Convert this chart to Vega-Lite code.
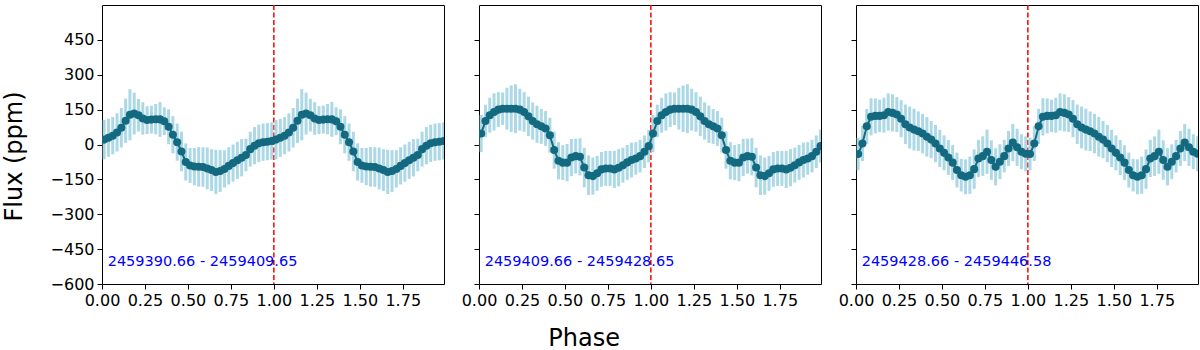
{
"$schema": "https://vega.github.io/schema/vega-lite/v6.json",
"padding": {"left": 1, "top": 3, "right": 0, "bottom": 0},
"config": {
 "font": "DejaVu Sans",
 "view": {"stroke": "black", "strokeWidth": 1},
 "concat": {"spacing": 15},
 "axis": {"domain": false, "grid": false, "tickColor": "black", "tickSize": 5, "labelColor": "black", "labelFontSize": 16, "labelPadding": 3, "labelOverlap": false, "labelFlush": false, "titleColor": "black", "titleFontWeight": "normal", "titleFontSize": 24},
 "axisY": {"labelOverlap": false}
},
"datasets": {
 "d": [
{"x":0.0125,"a":21,"ea":85,"b":47,"eb":80,"c":-41,"ec":70},
{"x":0.0375,"a":29,"ea":82,"b":101,"eb":70,"c":4,"ec":75},
{"x":0.0625,"a":38,"ea":80,"b":126,"eb":75,"c":78,"ec":75},
{"x":0.0875,"a":52,"ea":82,"b":140,"eb":80,"c":119,"ec":80},
{"x":0.1125,"a":72,"ea":85,"b":150,"eb":75,"c":123,"ec":75},
{"x":0.1375,"a":102,"ea":95,"b":154,"eb":70,"c":123,"ec":70},
{"x":0.1625,"a":128,"ea":110,"b":154,"eb":90,"c":126,"ec":75},
{"x":0.1875,"a":133,"ea":90,"b":154,"eb":100,"c":140,"ec":80},
{"x":0.2125,"a":126,"ea":70,"b":154,"eb":105,"c":136,"ec":80},
{"x":0.2375,"a":112,"ea":70,"b":150,"eb":90,"c":129,"ec":75},
{"x":0.2625,"a":105,"ea":60,"b":140,"eb":85,"c":111,"ec":80},
{"x":0.2875,"a":107,"ea":60,"b":121,"eb":85,"c":87,"ec":85},
{"x":0.3125,"a":109,"ea":65,"b":101,"eb":80,"c":73,"ec":90},
{"x":0.3375,"a":108,"ea":75,"b":87,"eb":80,"c":64,"ec":90},
{"x":0.3625,"a":100,"ea":60,"b":78,"eb":75,"c":57,"ec":85},
{"x":0.3875,"a":76,"ea":75,"b":69,"eb":75,"c":47,"ec":85},
{"x":0.4125,"a":42,"ea":80,"b":40,"eb":75,"c":33,"ec":85},
{"x":0.4375,"a":10,"ea":80,"b":-24,"eb":80,"c":21,"ec":80},
{"x":0.4625,"a":-30,"ea":85,"b":-70,"eb":80,"c":4,"ec":80},
{"x":0.4875,"a":-75,"ea":80,"b":-78,"eb":75,"c":-17,"ec":80},
{"x":0.5125,"a":-90,"ea":75,"b":-78,"eb":80,"c":-36,"ec":75},
{"x":0.5375,"a":-95,"ea":80,"b":-56,"eb":80,"c":-56,"ec":75},
{"x":0.5625,"a":-96,"ea":85,"b":-50,"eb":75,"c":-78,"ec":75},
{"x":0.5875,"a":-97,"ea":85,"b":-53,"eb":80,"c":-110,"ec":75},
{"x":0.6125,"a":-103,"ea":90,"b":-99,"eb":85,"c":-132,"ec":70},
{"x":0.6375,"a":-110,"ea":90,"b":-132,"eb":85,"c":-139,"ec":75},
{"x":0.6625,"a":-118,"ea":95,"b":-136,"eb":80,"c":-132,"ec":80},
{"x":0.6875,"a":-114,"ea":90,"b":-124,"eb":75,"c":-106,"ec":85},
{"x":0.7125,"a":-105,"ea":80,"b":-107,"eb":75,"c":-60,"ec":80},
{"x":0.7375,"a":-92,"ea":80,"b":-103,"eb":75,"c":-50,"ec":85},
{"x":0.7625,"a":-80,"ea":80,"b":-103,"eb":75,"c":-31,"ec":95},
{"x":0.7875,"a":-68,"ea":80,"b":-107,"eb":80,"c":-67,"ec":85},
{"x":0.8125,"a":-57,"ea":80,"b":-100,"eb":80,"c":-96,"ec":80},
{"x":0.8375,"a":-45,"ea":70,"b":-89,"eb":75,"c":-74,"ec":75},
{"x":0.8625,"a":-20,"ea":75,"b":-77,"eb":75,"c":-50,"ec":70},
{"x":0.8875,"a":-5,"ea":80,"b":-67,"eb":75,"c":-17,"ec":75},
{"x":0.9125,"a":5,"ea":80,"b":-60,"eb":70,"c":8,"ec":80},
{"x":0.9375,"a":10,"ea":80,"b":-50,"eb":70,"c":-12,"ec":80},
{"x":0.9625,"a":12,"ea":80,"b":-31,"eb":70,"c":-31,"ec":75},
{"x":0.9875,"a":15,"ea":80,"b":-7,"eb":70,"c":-40,"ec":75},
{"x":1.0125,"a":21,"ea":85,"b":47,"eb":80,"c":-41,"ec":70},
{"x":1.0375,"a":29,"ea":82,"b":101,"eb":70,"c":4,"ec":75},
{"x":1.0625,"a":38,"ea":80,"b":126,"eb":75,"c":78,"ec":75},
{"x":1.0875,"a":52,"ea":82,"b":140,"eb":80,"c":119,"ec":80},
{"x":1.1125,"a":72,"ea":85,"b":150,"eb":75,"c":123,"ec":75},
{"x":1.1375,"a":102,"ea":95,"b":154,"eb":70,"c":123,"ec":70},
{"x":1.1625,"a":128,"ea":110,"b":154,"eb":90,"c":126,"ec":75},
{"x":1.1875,"a":133,"ea":90,"b":154,"eb":100,"c":140,"ec":80},
{"x":1.2125,"a":126,"ea":70,"b":154,"eb":105,"c":136,"ec":80},
{"x":1.2375,"a":112,"ea":70,"b":150,"eb":90,"c":129,"ec":75},
{"x":1.2625,"a":105,"ea":60,"b":140,"eb":85,"c":111,"ec":80},
{"x":1.2875,"a":107,"ea":60,"b":121,"eb":85,"c":87,"ec":85},
{"x":1.3125,"a":109,"ea":65,"b":101,"eb":80,"c":73,"ec":90},
{"x":1.3375,"a":108,"ea":75,"b":87,"eb":80,"c":64,"ec":90},
{"x":1.3625,"a":100,"ea":60,"b":78,"eb":75,"c":57,"ec":85},
{"x":1.3875,"a":76,"ea":75,"b":69,"eb":75,"c":47,"ec":85},
{"x":1.4125,"a":42,"ea":80,"b":40,"eb":75,"c":33,"ec":85},
{"x":1.4375,"a":10,"ea":80,"b":-24,"eb":80,"c":21,"ec":80},
{"x":1.4625,"a":-30,"ea":85,"b":-70,"eb":80,"c":4,"ec":80},
{"x":1.4875,"a":-75,"ea":80,"b":-78,"eb":75,"c":-17,"ec":80},
{"x":1.5125,"a":-90,"ea":75,"b":-78,"eb":80,"c":-36,"ec":75},
{"x":1.5375,"a":-95,"ea":80,"b":-56,"eb":80,"c":-56,"ec":75},
{"x":1.5625,"a":-96,"ea":85,"b":-50,"eb":75,"c":-78,"ec":75},
{"x":1.5875,"a":-97,"ea":85,"b":-53,"eb":80,"c":-110,"ec":75},
{"x":1.6125,"a":-103,"ea":90,"b":-99,"eb":85,"c":-132,"ec":70},
{"x":1.6375,"a":-110,"ea":90,"b":-132,"eb":85,"c":-139,"ec":75},
{"x":1.6625,"a":-118,"ea":95,"b":-136,"eb":80,"c":-132,"ec":80},
{"x":1.6875,"a":-114,"ea":90,"b":-124,"eb":75,"c":-106,"ec":85},
{"x":1.7125,"a":-105,"ea":80,"b":-107,"eb":75,"c":-60,"ec":80},
{"x":1.7375,"a":-92,"ea":80,"b":-103,"eb":75,"c":-50,"ec":85},
{"x":1.7625,"a":-80,"ea":80,"b":-103,"eb":75,"c":-31,"ec":95},
{"x":1.7875,"a":-68,"ea":80,"b":-107,"eb":80,"c":-67,"ec":85},
{"x":1.8125,"a":-57,"ea":80,"b":-100,"eb":80,"c":-96,"ec":80},
{"x":1.8375,"a":-45,"ea":70,"b":-89,"eb":75,"c":-74,"ec":75},
{"x":1.8625,"a":-20,"ea":75,"b":-77,"eb":75,"c":-50,"ec":70},
{"x":1.8875,"a":-5,"ea":80,"b":-67,"eb":75,"c":-17,"ec":75},
{"x":1.9125,"a":5,"ea":80,"b":-60,"eb":70,"c":8,"ec":80},
{"x":1.9375,"a":10,"ea":80,"b":-50,"eb":70,"c":-12,"ec":80},
{"x":1.9625,"a":12,"ea":80,"b":-31,"eb":70,"c":-31,"ec":75},
{"x":1.9875,"a":15,"ea":80,"b":-7,"eb":70,"c":-40,"ec":75}
 ]
},
"hconcat": [
 {
  "width": 342, "height": 279,
  "layer": [
   {"data": {"values": [{"v": 1}]}, "mark": {"type": "rule", "color": "red", "strokeWidth": 1.5, "strokeDash": [5, 2.5]},
    "encoding": {"x": {"field": "v", "type": "quantitative", "scale": {"domain": [0, 1.99], "nice": false}, "axis": {"values": [0, 0.25, 0.5, 0.75, 1, 1.25, 1.5, 1.75], "format": ".2f", "labelOverlap": false, "title": null}}}},
   {"data": {"name": "d"}, "mark": {"type": "errorbar", "ticks": false, "color": "#add8e6", "thickness": 3, "clip": true},
    "encoding": {"x": {"field": "x", "type": "quantitative"}, "y": {"field": "a", "type": "quantitative", "scale": {"domain": [-600, 600], "nice": false}, "axis": {"values": [-600, -450, -300, -150, 0, 150, 300, 450], "labelOverlap": false, "title": "Flux (ppm)", "titleX": -81, "titleY": 151, "titleBaseline": "alphabetic"}}, "yError": {"field": "ea"}}},
   {"data": {"name": "d"}, "mark": {"type": "line", "color": "#136a80", "strokeWidth": 2, "clip": true},
    "encoding": {"x": {"field": "x", "type": "quantitative"}, "y": {"field": "a", "type": "quantitative", "axis": {"values": [-600, -450, -300, -150, 0, 150, 300, 450], "labelOverlap": false, "title": "Flux (ppm)", "titleX": -81, "titleY": 151, "titleBaseline": "alphabetic"}}}},
   {"data": {"name": "d"}, "mark": {"type": "point", "filled": true, "opacity": 1, "size": 65, "color": "#136a80", "clip": true},
    "encoding": {"x": {"field": "x", "type": "quantitative"}, "y": {"field": "a", "type": "quantitative", "axis": {"values": [-600, -450, -300, -150, 0, 150, 300, 450], "labelOverlap": false, "title": "Flux (ppm)", "titleX": -81, "titleY": 151, "titleBaseline": "alphabetic"}}}},
   {"data": {"values": [{"label": "2459390.66 - 2459409.65"}]}, "mark": {"type": "text", "align": "left", "baseline": "alphabetic", "color": "blue", "fontSize": 14.5},
    "encoding": {"x": {"datum": 0.033}, "y": {"datum": -523, "axis": {"values": [-600, -450, -300, -150, 0, 150, 300, 450], "labelOverlap": false, "title": "Flux (ppm)", "titleX": -81, "titleY": 151, "titleBaseline": "alphabetic"}}, "text": {"field": "label"}}}
  ]
 },
 {
  "width": 342, "height": 279,
  "layer": [
   {"data": {"values": [{"v": 1}]}, "mark": {"type": "rule", "color": "red", "strokeWidth": 1.5, "strokeDash": [5, 2.5]},
    "encoding": {"x": {"field": "v", "type": "quantitative", "scale": {"domain": [0, 1.99], "nice": false}, "axis": {"values": [0, 0.25, 0.5, 0.75, 1, 1.25, 1.5, 1.75], "format": ".2f", "labelOverlap": false, "title": "Phase", "titleX": 104.7, "titleY": 61, "titleBaseline": "alphabetic"}}}},
   {"data": {"name": "d"}, "mark": {"type": "errorbar", "ticks": false, "color": "#add8e6", "thickness": 3, "clip": true},
    "encoding": {"x": {"field": "x", "type": "quantitative"}, "y": {"field": "b", "type": "quantitative", "scale": {"domain": [-600, 600], "nice": false}, "axis": {"values": [-600, -450, -300, -150, 0, 150, 300, 450], "labels": false, "title": null}}, "yError": {"field": "eb"}}},
   {"data": {"name": "d"}, "mark": {"type": "line", "color": "#136a80", "strokeWidth": 2, "clip": true},
    "encoding": {"x": {"field": "x", "type": "quantitative"}, "y": {"field": "b", "type": "quantitative", "axis": {"values": [-600, -450, -300, -150, 0, 150, 300, 450], "labels": false, "title": null}}}},
   {"data": {"name": "d"}, "mark": {"type": "point", "filled": true, "opacity": 1, "size": 65, "color": "#136a80", "clip": true},
    "encoding": {"x": {"field": "x", "type": "quantitative"}, "y": {"field": "b", "type": "quantitative", "axis": {"values": [-600, -450, -300, -150, 0, 150, 300, 450], "labels": false, "title": null}}}},
   {"data": {"values": [{"label": "2459409.66 - 2459428.65"}]}, "mark": {"type": "text", "align": "left", "baseline": "alphabetic", "color": "blue", "fontSize": 14.5},
    "encoding": {"x": {"datum": 0.033}, "y": {"datum": -523, "axis": {"values": [-600, -450, -300, -150, 0, 150, 300, 450], "labels": false, "title": null}}, "text": {"field": "label"}}}
  ]
 },
 {
  "width": 342, "height": 279,
  "layer": [
   {"data": {"values": [{"v": 1}]}, "mark": {"type": "rule", "color": "red", "strokeWidth": 1.5, "strokeDash": [5, 2.5]},
    "encoding": {"x": {"field": "v", "type": "quantitative", "scale": {"domain": [0, 1.99], "nice": false}, "axis": {"values": [0, 0.25, 0.5, 0.75, 1, 1.25, 1.5, 1.75], "format": ".2f", "labelOverlap": false, "title": null}}}},
   {"data": {"name": "d"}, "mark": {"type": "errorbar", "ticks": false, "color": "#add8e6", "thickness": 3, "clip": true},
    "encoding": {"x": {"field": "x", "type": "quantitative"}, "y": {"field": "c", "type": "quantitative", "scale": {"domain": [-600, 600], "nice": false}, "axis": {"values": [-600, -450, -300, -150, 0, 150, 300, 450], "labels": false, "title": null}}, "yError": {"field": "ec"}}},
   {"data": {"name": "d"}, "mark": {"type": "line", "color": "#136a80", "strokeWidth": 2, "clip": true},
    "encoding": {"x": {"field": "x", "type": "quantitative"}, "y": {"field": "c", "type": "quantitative", "axis": {"values": [-600, -450, -300, -150, 0, 150, 300, 450], "labels": false, "title": null}}}},
   {"data": {"name": "d"}, "mark": {"type": "point", "filled": true, "opacity": 1, "size": 65, "color": "#136a80", "clip": true},
    "encoding": {"x": {"field": "x", "type": "quantitative"}, "y": {"field": "c", "type": "quantitative", "axis": {"values": [-600, -450, -300, -150, 0, 150, 300, 450], "labels": false, "title": null}}}},
   {"data": {"values": [{"label": "2459428.66 - 2459446.58"}]}, "mark": {"type": "text", "align": "left", "baseline": "alphabetic", "color": "blue", "fontSize": 14.5},
    "encoding": {"x": {"datum": 0.033}, "y": {"datum": -523, "axis": {"values": [-600, -450, -300, -150, 0, 150, 300, 450], "labels": false, "title": null}}, "text": {"field": "label"}}}
  ]
 }
]
}
